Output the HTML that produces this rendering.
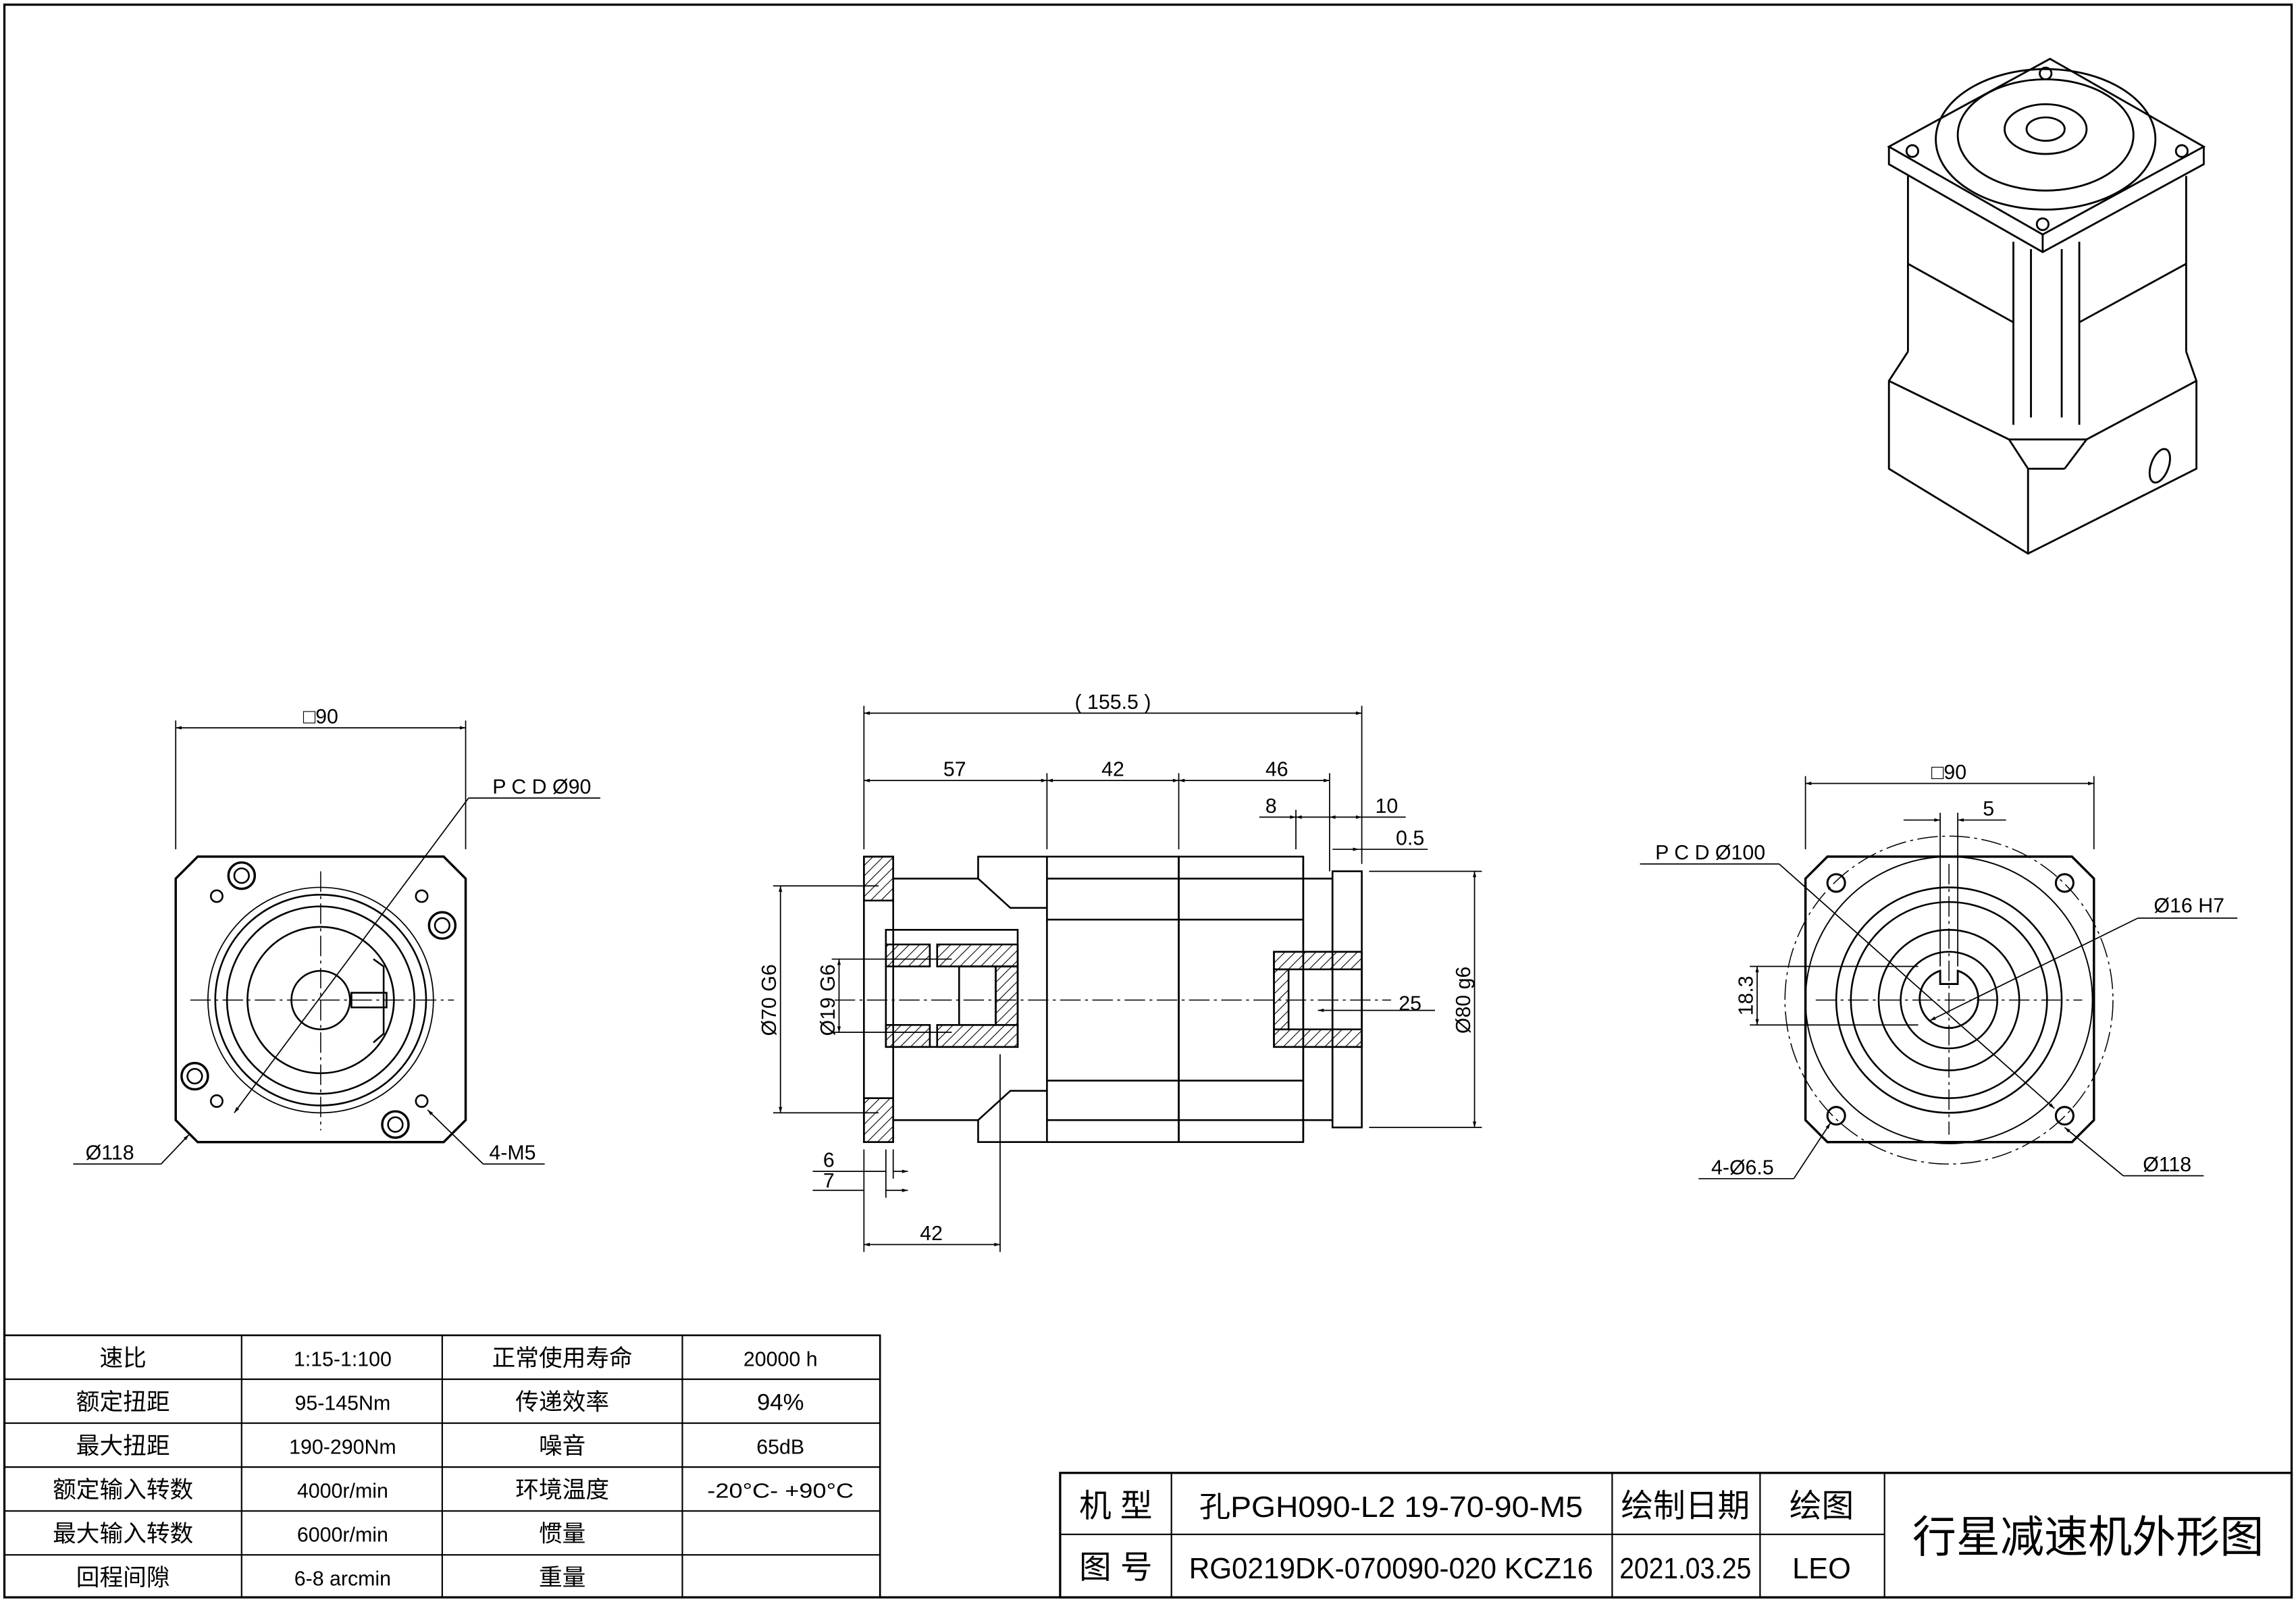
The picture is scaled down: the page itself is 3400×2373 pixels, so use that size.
<!DOCTYPE html>
<html><head><meta charset="utf-8"><style>
html,body{margin:0;padding:0;background:#fff}
svg{display:block}
text{font-family:"Liberation Sans","Noto Sans CJK SC",sans-serif;fill:#000}
</style></head><body>
<svg width="3400" height="2373" viewBox="0 0 1568 1094" xmlns="http://www.w3.org/2000/svg">
<defs>
<pattern id="h" width="5" height="5" patternUnits="userSpaceOnUse" patternTransform="rotate(45)"><line x1="0" y1="0" x2="0" y2="5" stroke="#000" stroke-width="1"/></pattern>
<marker id="a" viewBox="0 0 10 10" refX="10" refY="5" markerWidth="8" markerHeight="5" orient="auto-start-reverse"><path d="M0,2 L10,5 L0,8z" fill="#000"/></marker>
</defs>
<g fill="none" stroke="#000" stroke-width="1.2">
<rect x="3" y="3" width="1562" height="1088" stroke-width="1.5"/>

<!-- LEFT VIEW -->
<polygon points="135,585 303,585 318,600 318,765 303,780 135,780 120,765 120,600" stroke-width="1.6"/>
<circle cx="219" cy="683" r="77" stroke-width="0.8"/>
<circle cx="219" cy="683" r="72"/>
<circle cx="219" cy="683" r="64"/>
<circle cx="219" cy="683" r="50"/>
<circle cx="219" cy="683" r="20"/>
<rect x="240" y="678" width="24" height="10"/>
<path d="M255,655 L262,660 L262,706 L255,712"/>
<g stroke-width="1.6"><circle cx="165" cy="598" r="9"/><circle cx="302" cy="632" r="9"/><circle cx="133" cy="735" r="9"/><circle cx="270" cy="768" r="9"/></g>
<circle cx="165" cy="598" r="5"/><circle cx="302" cy="632" r="5"/><circle cx="133" cy="735" r="5"/><circle cx="270" cy="768" r="5"/>
<circle cx="148" cy="612" r="4"/><circle cx="288" cy="612" r="4"/><circle cx="148" cy="752" r="4"/><circle cx="288" cy="752" r="4"/>
<g stroke-width="0.7" stroke-dasharray="14,3,2,3"><line x1="130" y1="683" x2="310" y2="683"/><line x1="219" y1="595" x2="219" y2="772"/></g>
<g stroke-width="0.8">
<line x1="120" y1="580" x2="120" y2="492"/><line x1="318" y1="580" x2="318" y2="492"/>
<line x1="120" y1="497" x2="318" y2="497" marker-start="url(#a)" marker-end="url(#a)"/>
<line x1="160" y1="760" x2="320" y2="545" marker-start="url(#a)"/><line x1="320" y1="545" x2="410" y2="545"/>
<line x1="50" y1="795" x2="110" y2="795"/><line x1="110" y1="795" x2="129" y2="775" marker-end="url(#a)"/>
<line x1="292" y1="758" x2="330" y2="795" marker-start="url(#a)"/><line x1="330" y1="795" x2="372" y2="795"/>
</g>

<!-- MIDDLE VIEW -->
<rect x="590" y="585" width="20" height="195"/>
<rect x="590" y="585" width="20" height="30" fill="url(#h)"/>
<rect x="590" y="750" width="20" height="30" fill="url(#h)"/>
<path d="M610,600 L668,600 L690,620 L715,620 M610,765 L668,765 L690,745 L715,745"/>
<path d="M668,600 L668,585 L715,585 M668,765 L668,780 L715,780"/>
<rect x="715" y="585" width="90" height="195"/>
<rect x="805" y="585" width="85" height="195"/>
<path d="M715,600 H890 M715,628 H890 M715,738 H890 M715,765 H890"/>
<path d="M890,585 V780 M890,600 H910 V765 H890"/>
<rect x="910" y="595" width="20" height="175"/>
<rect x="605" y="635" width="90" height="80"/>
<rect x="605" y="645" width="30" height="15" fill="url(#h)"/>
<rect x="605" y="700" width="30" height="15" fill="url(#h)"/>
<rect x="640" y="645" width="55" height="15" fill="url(#h)"/>
<rect x="640" y="700" width="55" height="15" fill="url(#h)"/>
<rect x="680" y="660" width="15" height="40" fill="url(#h)"/>
<rect x="655" y="660" width="25" height="40"/>
<rect x="870" y="650" width="60" height="65"/>
<rect x="870" y="650" width="60" height="12" fill="url(#h)"/>
<rect x="870" y="703" width="60" height="12" fill="url(#h)"/>
<rect x="870" y="662" width="10" height="41" fill="url(#h)"/>
<line x1="570" y1="683" x2="950" y2="683" stroke-width="0.7" stroke-dasharray="14,3,2,3"/>
<g stroke-width="0.8">
<line x1="590" y1="580" x2="590" y2="482"/><line x1="930" y1="590" x2="930" y2="482"/>
<line x1="590" y1="487" x2="930" y2="487" marker-start="url(#a)" marker-end="url(#a)"/>
<line x1="715" y1="580" x2="715" y2="528"/><line x1="805" y1="580" x2="805" y2="528"/><line x1="908" y1="595" x2="908" y2="528"/>
<line x1="590" y1="533" x2="715" y2="533" marker-start="url(#a)" marker-end="url(#a)"/>
<line x1="715" y1="533" x2="805" y2="533" marker-start="url(#a)" marker-end="url(#a)"/>
<line x1="805" y1="533" x2="908" y2="533" marker-start="url(#a)" marker-end="url(#a)"/>
<line x1="885" y1="580" x2="885" y2="553"/>
<line x1="860" y1="558" x2="885" y2="558" marker-end="url(#a)"/><line x1="908" y1="558" x2="885" y2="558" marker-end="url(#a)"/>
<line x1="908" y1="558" x2="930" y2="558" marker-start="url(#a)" marker-end="url(#a)"/><line x1="930" y1="558" x2="960" y2="558"/>
<line x1="928" y1="580" x2="975" y2="580"/><line x1="910" y1="580" x2="928" y2="580" marker-end="url(#a)"/>
<line x1="600" y1="605" x2="528" y2="605"/><line x1="600" y1="760" x2="528" y2="760"/>
<line x1="533" y1="605" x2="533" y2="760" marker-start="url(#a)" marker-end="url(#a)"/>
<line x1="650" y1="655" x2="568" y2="655"/><line x1="650" y1="705" x2="568" y2="705"/>
<line x1="573" y1="655" x2="573" y2="705" marker-start="url(#a)" marker-end="url(#a)"/>
<line x1="935" y1="595" x2="1012" y2="595"/><line x1="935" y1="770" x2="1012" y2="770"/>
<line x1="1007" y1="595" x2="1007" y2="770" marker-start="url(#a)" marker-end="url(#a)"/>
<line x1="930" y1="690" x2="980" y2="690"/><line x1="900" y1="690" x2="930" y2="690" marker-start="url(#a)"/>
<line x1="605" y1="785" x2="605" y2="818"/><line x1="610" y1="785" x2="610" y2="805"/><line x1="590" y1="785" x2="590" y2="855"/>
<line x1="555" y1="800" x2="605" y2="800"/><line x1="610" y1="800" x2="620" y2="800" marker-end="url(#a)"/>
<line x1="555" y1="813" x2="590" y2="813"/><line x1="605" y1="813" x2="620" y2="813" marker-end="url(#a)"/>
<line x1="683" y1="720" x2="683" y2="855"/>
<line x1="590" y1="850" x2="683" y2="850" marker-start="url(#a)" marker-end="url(#a)"/>
</g>

<!-- RIGHT VIEW -->
<polygon points="1248,585 1415,585 1430,600 1430,765 1415,780 1248,780 1233,765 1233,600" stroke-width="1.6"/>
<circle cx="1331" cy="683" r="112" stroke-width="0.7" stroke-dasharray="14,3,2,3"/>
<circle cx="1331" cy="683" r="98" stroke-width="0.9"/>
<circle cx="1331" cy="683" r="77"/>
<circle cx="1331" cy="683" r="67"/>
<circle cx="1331" cy="683" r="48"/>
<circle cx="1331" cy="683" r="33"/>
<path d="M1337,663 A20,20 0 1 1 1325,663 V672 H1337 Z" stroke-width="1.3"/>
<g stroke-width="1.4"><circle cx="1254" cy="603" r="6"/><circle cx="1410" cy="603" r="6"/><circle cx="1254" cy="762" r="6"/><circle cx="1410" cy="762" r="6"/></g>
<g stroke-width="0.7" stroke-dasharray="14,3,2,3"><line x1="1240" y1="683" x2="1422" y2="683"/><line x1="1331" y1="590" x2="1331" y2="775"/></g>
<g stroke-width="0.8">
<line x1="1233" y1="580" x2="1233" y2="530"/><line x1="1430" y1="580" x2="1430" y2="530"/>
<line x1="1233" y1="535" x2="1430" y2="535" marker-start="url(#a)" marker-end="url(#a)"/>
<line x1="1325" y1="660" x2="1325" y2="555"/><line x1="1337" y1="660" x2="1337" y2="555"/>
<line x1="1300" y1="560" x2="1325" y2="560" marker-end="url(#a)"/><line x1="1370" y1="560" x2="1337" y2="560" marker-end="url(#a)"/>
<line x1="1310" y1="660" x2="1195" y2="660"/><line x1="1310" y1="700" x2="1195" y2="700"/>
<line x1="1200" y1="660" x2="1200" y2="700" marker-start="url(#a)" marker-end="url(#a)"/>
<line x1="1120" y1="590" x2="1215" y2="590"/><line x1="1215" y1="590" x2="1403" y2="757" marker-end="url(#a)"/>
<line x1="1318" y1="697" x2="1460" y2="627" marker-start="url(#a)"/><line x1="1460" y1="627" x2="1528" y2="627"/>
<line x1="1160" y1="805" x2="1225" y2="805"/><line x1="1225" y1="805" x2="1250" y2="767" marker-end="url(#a)"/>
<line x1="1410" y1="770" x2="1450" y2="803" marker-start="url(#a)"/><line x1="1450" y1="803" x2="1505" y2="803"/>
</g>

<!-- ISOMETRIC -->
<g stroke-width="1.3">
<polygon points="1290,100 1400,40 1505,100 1395,160"/>
<path d="M1290,100 V112 L1395,172 L1505,112 V100 M1395,160 V172"/>
<ellipse cx="1397" cy="95" rx="75" ry="48"/>
<ellipse cx="1397" cy="92" rx="60" ry="38"/>
<ellipse cx="1397" cy="88" rx="28" ry="17"/>
<ellipse cx="1397" cy="88" rx="13" ry="8"/>
<circle cx="1306" cy="103" r="4"/><circle cx="1490" cy="103" r="4"/><circle cx="1397" cy="50" r="4"/><circle cx="1395" cy="153" r="4"/>
<path d="M1303,120 V240 M1493,120 V240 M1303,180 L1375,220 M1493,180 L1420,220 M1375,165 V290 M1420,165 V290 M1387,170 V285 M1408,170 V285"/>
<path d="M1303,240 L1290,260 V320 L1385,378 L1500,320 V260 L1493,240"/>
<path d="M1290,260 L1372,300 H1425 L1500,260"/>
<path d="M1372,300 L1385,320 V378 M1425,300 L1410,320 M1385,320 H1410"/>
<ellipse cx="1475" cy="318" rx="6" ry="12" transform="rotate(20 1475 318)"/>
</g>

<!-- SPEC TABLE -->
<rect x="3" y="912" width="598" height="179"/>
<g stroke-width="1"><path d="M3,942 H601 M3,972 H601 M3,1002 H601 M3,1032 H601 M3,1062 H601 M165,912 V1091 M302,912 V1091 M466,912 V1091"/></g>
<!-- TITLE BLOCK -->
<rect x="724" y="1006" width="841" height="85" stroke-width="1.5"/>
<g stroke-width="1"><path d="M724,1048 H1287 M800,1006 V1091 M1101,1006 V1091 M1202,1006 V1091 M1287,1006 V1091"/></g>
</g>

<g font-size="14" text-anchor="middle">
<text x="219" y="494">□90</text>
<text x="370" y="542">P C D Ø90</text>
<text x="75" y="792">Ø118</text>
<text x="350" y="792">4-M5</text>
<text x="760" y="484">( 155.5 )</text>
<text x="652" y="530">57</text><text x="760" y="530">42</text><text x="872" y="530">46</text>
<text x="868" y="555">8</text><text x="947" y="555">10</text><text x="963" y="577">0.5</text>
<text x="963" y="690">25</text>
<text x="566" y="797">6</text><text x="566" y="811">7</text>
<text x="636" y="847">42</text>
<text transform="translate(530,683) rotate(-90)">Ø70 G6</text>
<text transform="translate(570,683) rotate(-90)">Ø19 G6</text>
<text transform="translate(1004,683) rotate(-90)">Ø80 g6</text>
<text x="1331" y="532">□90</text>
<text x="1358" y="557">5</text>
<text x="1168" y="587">P C D Ø100</text>
<text x="1495" y="623">Ø16 H7</text>
<text transform="translate(1197,680) rotate(-90)">18.3</text>
<text x="1190" y="802">4-Ø6.5</text>
<text x="1480" y="800">Ø118</text>
</g>

<g font-size="16" text-anchor="middle">
<text x="84" y="933">速比</text><text x="234" y="933" font-size="14">1:15-1:100</text><text x="384" y="933">正常使用寿命</text><text x="533" y="933" font-size="14">20000 h</text>
<text x="84" y="963">额定扭距</text><text x="234" y="963" font-size="14">95-145Nm</text><text x="384" y="963">传递效率</text><text x="533" y="963">94%</text>
<text x="84" y="993">最大扭距</text><text x="234" y="993" font-size="14">190-290Nm</text><text x="384" y="993">噪音</text><text x="533" y="993" font-size="14">65dB</text>
<text x="84" y="1023">额定输入转数</text><text x="234" y="1023" font-size="14">4000r/min</text><text x="384" y="1023">环境温度</text><text x="533" y="1023" font-size="14" textLength="100" lengthAdjust="spacingAndGlyphs">-20°C- +90°C</text>
<text x="84" y="1053">最大输入转数</text><text x="234" y="1053" font-size="14">6000r/min</text><text x="384" y="1053">惯量</text>
<text x="84" y="1083">回程间隙</text><text x="234" y="1083" font-size="14">6-8 arcmin</text><text x="384" y="1083">重量</text>
</g>
<g font-size="20" text-anchor="middle">
<text x="762" y="1036" font-size="22">机 型</text><text x="950" y="1036" textLength="262" lengthAdjust="spacingAndGlyphs">孔PGH090-L2 19-70-90-M5</text><text x="1151" y="1036" font-size="22">绘制日期</text><text x="1244" y="1036" font-size="22">绘图</text>
<text x="762" y="1078" font-size="22">图 号</text><text x="950" y="1078" textLength="276" lengthAdjust="spacingAndGlyphs">RG0219DK-070090-020 KCZ16</text><text x="1151" y="1078" textLength="90" lengthAdjust="spacingAndGlyphs">2021.03.25</text><text x="1244" y="1078">LEO</text>
<text x="1426" y="1060" font-size="30">行星减速机外形图</text>
</g>
</svg>
</body></html>
